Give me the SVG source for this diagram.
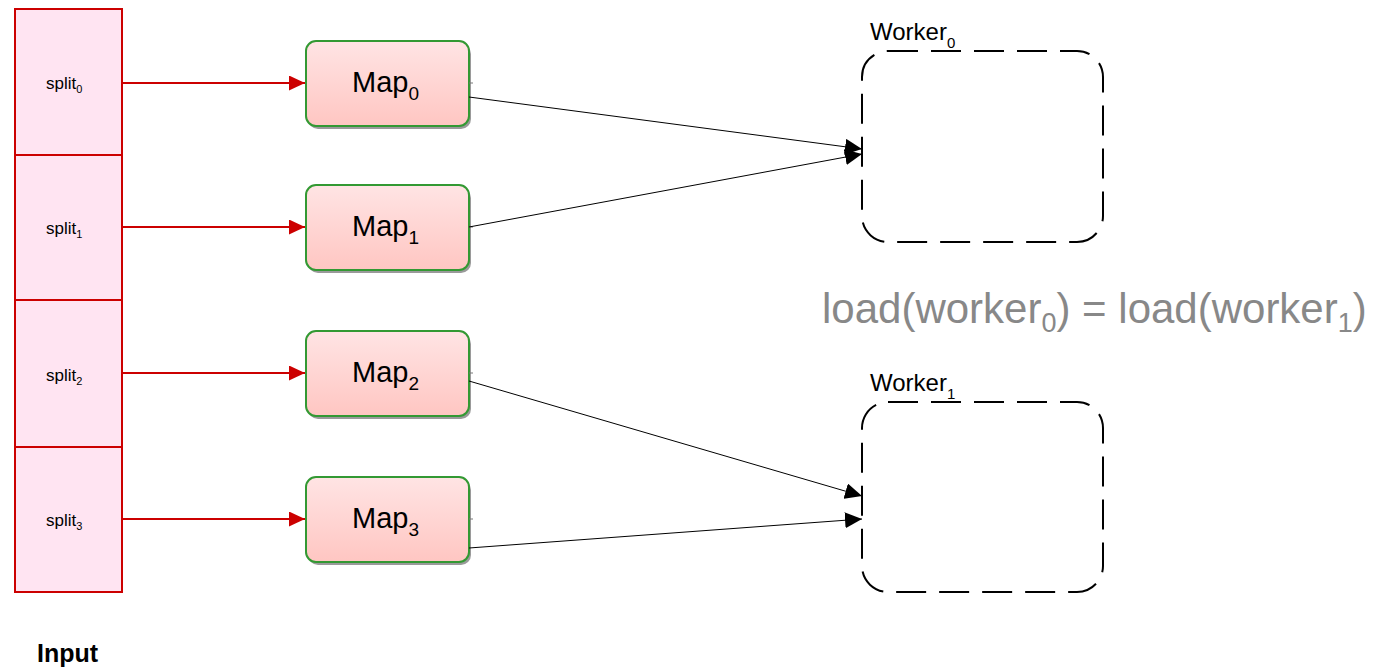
<svg xmlns="http://www.w3.org/2000/svg" width="1386" height="670" viewBox="0 0 1386 670">
  <style>
    .split { fill: #ffe4f2; stroke: #cc0000; stroke-width: 2; }
    .split-label { font-family: "Liberation Sans", Arial, sans-serif; font-size: 17px; fill: #000; }
    .map-shadow { fill: #9a9a9a; }
    .map { fill: url(#mapFill); stroke: #339933; stroke-width: 2; }
    .map-label { font-family: "Liberation Sans", Arial, sans-serif; font-size: 29px; fill: #000; }
    .worker { fill: none; stroke: #000; stroke-width: 2; stroke-dasharray: 30 13; }
    .worker-label { font-family: "Liberation Sans", Arial, sans-serif; font-size: 24px; fill: #000; }
    .feed { stroke: #cc0000; stroke-width: 2; fill: none; }
    .assign { stroke: #000; stroke-width: 1; fill: none; }
    .tick { stroke: #777; stroke-width: 1; }
    .balance { font-family: "Liberation Sans", Arial, sans-serif; font-size: 42px; fill: #888888; }
    .title { font-family: "Liberation Sans", Arial, sans-serif; font-size: 25px; font-weight: bold; fill: #000; }
  </style>
  <defs>
    <linearGradient id="mapFill" x1="0" y1="0" x2="0" y2="1">
      <stop offset="0" stop-color="#ffe4e4"/>
      <stop offset="1" stop-color="#ffc6c2"/>
    </linearGradient>
    <marker id="redHead" markerUnits="userSpaceOnUse" markerWidth="16" markerHeight="15" refX="16" refY="7.5" orient="auto">
      <path d="M0,0 L16,7.5 L0,15 Z" fill="#cc0000"/>
    </marker>
    <marker id="blackHead" markerUnits="userSpaceOnUse" markerWidth="17" markerHeight="16" refX="17" refY="8" orient="auto">
      <path d="M0,0 L17,8 L0,16 Z" fill="#000"/>
    </marker>
  </defs>

  <rect width="1386" height="670" fill="#ffffff"/>

  <!-- input splits -->
  <g id="split0">
    <rect class="split" x="15" y="9" width="107" height="146"/>
    <text class="split-label" x="46" y="89">split<tspan font-size="11" dy="4">0</tspan></text>
  </g>
  <g id="split1">
    <rect class="split" x="15" y="155" width="107" height="145"/>
    <text class="split-label" x="46" y="234">split<tspan font-size="11" dy="4">1</tspan></text>
  </g>
  <g id="split2">
    <rect class="split" x="15" y="300" width="107" height="147"/>
    <text class="split-label" x="46" y="381">split<tspan font-size="11" dy="4">2</tspan></text>
  </g>
  <g id="split3">
    <rect class="split" x="15" y="447" width="107" height="145"/>
    <text class="split-label" x="46" y="526">split<tspan font-size="11" dy="4">3</tspan></text>
  </g>

  <!-- map tasks -->
  <g id="map0">
    <rect class="map-shadow" x="308" y="44" width="163" height="85" rx="10"/>
    <rect class="map" x="306" y="41" width="163" height="85" rx="10"/>
    <line class="tick" x1="469" y1="83" x2="473" y2="83"/>
    <text class="map-label" x="352" y="92">Map<tspan font-size="19" dy="8">0</tspan></text>
  </g>
  <g id="map1">
    <rect class="map-shadow" x="308" y="188" width="163" height="85" rx="10"/>
    <rect class="map" x="306" y="185" width="163" height="85" rx="10"/>
    <line class="tick" x1="469" y1="227" x2="473" y2="227"/>
    <text class="map-label" x="352" y="236">Map<tspan font-size="19" dy="8">1</tspan></text>
  </g>
  <g id="map2">
    <rect class="map-shadow" x="308" y="334" width="163" height="85" rx="10"/>
    <rect class="map" x="306" y="331" width="163" height="85" rx="10"/>
    <line class="tick" x1="469" y1="373" x2="473" y2="373"/>
    <text class="map-label" x="352" y="382">Map<tspan font-size="19" dy="8">2</tspan></text>
  </g>
  <g id="map3">
    <rect class="map-shadow" x="308" y="480" width="163" height="85" rx="10"/>
    <rect class="map" x="306" y="477" width="163" height="85" rx="10"/>
    <line class="tick" x1="469" y1="519" x2="473" y2="519"/>
    <text class="map-label" x="352" y="528">Map<tspan font-size="19" dy="8">3</tspan></text>
  </g>

  <!-- workers -->
  <g id="worker0">
    <rect class="worker" x="862" y="51" width="241" height="191" rx="26"/>
    <text class="worker-label" x="870" y="40">Worker<tspan font-size="15" dy="8">0</tspan></text>
  </g>
  <g id="worker1">
    <rect class="worker" x="862" y="402" width="241" height="190" rx="26"/>
    <text class="worker-label" x="870" y="391">Worker<tspan font-size="15" dy="8">1</tspan></text>
  </g>

  <!-- connectors -->
  <g id="connectors">
    <line class="feed" x1="122" y1="83" x2="305" y2="83" marker-end="url(#redHead)"/>
    <line class="feed" x1="122" y1="227" x2="305" y2="227" marker-end="url(#redHead)"/>
    <line class="feed" x1="122" y1="373" x2="305" y2="373" marker-end="url(#redHead)"/>
    <line class="feed" x1="122" y1="519" x2="305" y2="519" marker-end="url(#redHead)"/>
    <line class="assign" x1="469" y1="97" x2="862" y2="149" marker-end="url(#blackHead)"/>
    <line class="assign" x1="469" y1="227" x2="862" y2="154" marker-end="url(#blackHead)"/>
    <line class="assign" x1="469" y1="381" x2="862" y2="496" marker-end="url(#blackHead)"/>
    <line class="assign" x1="469" y1="548" x2="862" y2="519" marker-end="url(#blackHead)"/>
  </g>

  <!-- balance condition -->
  <g id="balance">
    <text class="balance" x="822" y="323">load(worker<tspan font-size="27" dy="9">0</tspan><tspan dy="-9">) = load(worker</tspan><tspan font-size="27" dy="9">1</tspan><tspan dy="-9">)</tspan></text>
  </g>

  <g id="input-title">
    <text class="title" x="37" y="662">Input</text>
  </g>
</svg>
